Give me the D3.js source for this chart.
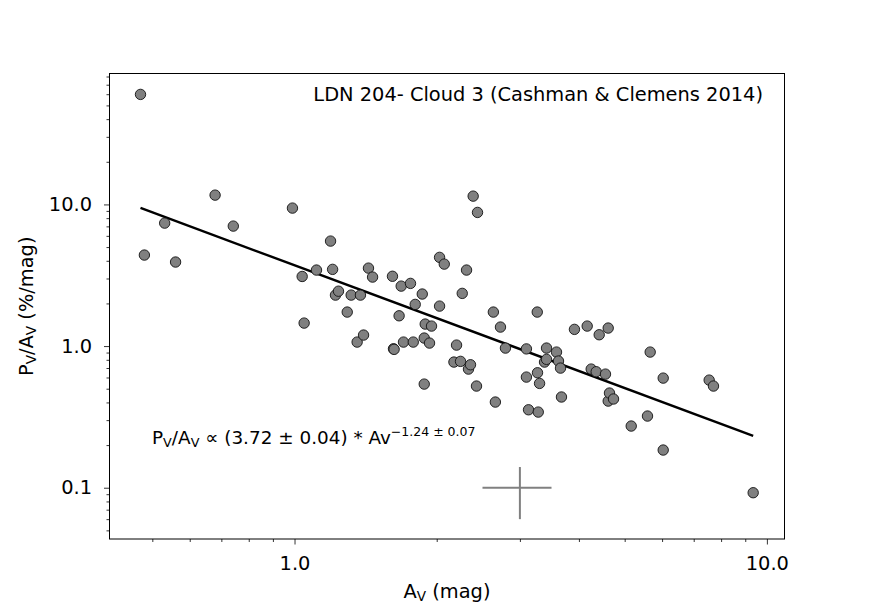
<!DOCTYPE html>
<html>
<head>
<meta charset="utf-8">
<script src="https://cdn.jsdelivr.net/npm/d3@7"></script>
<style>
  body { margin: 0; background: #fff; }
  svg text { font-family: "DejaVu Sans", sans-serif; fill: #000; }
</style>
</head>
<body>
<div id="chart"></div>
<script>
// Av (mag) and Pv/Av (%/mag)
const avValues = [
  0.472, 0.481, 0.531, 0.560, 0.679, 0.742, 0.990, 1.038, 1.048, 1.113,
  1.192, 1.204, 1.221, 1.239, 1.293, 1.318, 1.357, 1.379, 1.400, 1.434,
  1.463, 1.612, 1.620, 1.625, 1.665, 1.682, 1.701, 1.760, 1.784, 1.801,
  1.864, 1.882, 1.882, 1.891, 1.931, 1.950, 2.028, 2.028, 2.075, 2.175,
  2.203, 2.246, 2.265, 2.313, 2.335, 2.358, 2.389, 2.428, 2.440, 2.636,
  2.662, 2.729, 2.796, 3.097, 3.097, 3.129, 3.265, 3.269, 3.281, 3.302,
  3.383, 3.416, 3.416, 3.586, 3.621, 3.657, 3.674, 3.914, 4.165, 4.247,
  4.352, 4.416, 4.553, 4.614, 4.614, 4.643, 4.735, 5.162, 5.588, 5.662,
  6.033, 6.033, 7.548, 7.708, 9.354
];
const pvAvValues = [
  59.8, 4.39, 7.38, 3.92, 11.63, 7.03, 9.42, 3.10, 1.453, 3.44,
  5.51, 3.48, 2.29, 2.44, 1.738, 2.29, 1.067, 2.29, 1.196, 3.55,
  3.07, 3.11, 0.957, 0.948, 1.636, 2.65, 1.067, 2.77, 1.067, 1.969,
  2.33, 1.139, 0.539, 1.430, 1.050, 1.384, 4.23, 1.915, 3.79, 0.771,
  1.016, 0.780, 2.355, 3.44, 0.688, 0.738, 11.44, 0.522, 8.78, 1.738,
  0.4025, 1.362, 0.968, 0.955, 0.604, 0.355, 1.738, 0.648, 0.342, 0.545,
  0.771, 0.968, 0.806, 0.907, 0.784, 0.699, 0.437, 1.312, 1.384, 0.688,
  0.659, 1.202, 0.634, 1.340, 0.409, 0.466, 0.423, 0.2725, 0.3206, 0.907,
  0.594, 0.1845, 0.575, 0.522, 0.0922
];

// power-law fit  Pv/Av = A * Av^B
const fitA = 3.72;
const fitB = -1.24;

// typical error bar
const errX = 3.0, errXsig = 0.5;
const errY = 0.1, errYsig = 0.04;

const xTickValues = [1, 10];
const yTickValues = [0.1, 1, 10];
const xDomain = [0.4058, 10.897];
const yDomain = [0.04345, 84.0];

const width = 871, height = 606;
const mLeft = 109.5, mRight = 784.5, mTop = 73.5, mBottom = 539;
const fs = 19.4, fsSmall = 13.6;

const svg = d3.select("#chart").append("svg")
  .attr("width", width).attr("height", height);

const x = d3.scaleLog().domain(xDomain).range([mLeft, mRight]);
const y = d3.scaleLog().domain(yDomain).range([mBottom, mTop]);

// minor ticks
function minorTicks(domain) {
  const out = [];
  for (let e = -3; e <= 3; e++) {
    for (let m = 2; m <= 9; m++) {
      const v = m * Math.pow(10, e);
      if (v >= domain[0] && v <= domain[1]) out.push(v);
    }
  }
  return out;
}

const fmt = d3.format(".1f");

// x axis
const gx = svg.append("g").attr("transform", `translate(0,${mBottom})`);
gx.call(d3.axisBottom(x).tickValues(minorTicks(xDomain)).tickSize(3).tickFormat(""))
  .call(g => g.select(".domain").remove());
gx.append("g").call(d3.axisBottom(x).tickValues(xTickValues).tickSize(5.5).tickPadding(11.5).tickFormat(fmt))
  .call(g => g.select(".domain").remove())
  .call(g => g.selectAll("text").attr("font-size", fs).attr("font-family", "DejaVu Sans").attr("fill", "#000"));

// y axis
const gy = svg.append("g").attr("transform", `translate(${mLeft},0)`);
gy.call(d3.axisLeft(y).tickValues(minorTicks(yDomain)).tickSize(3).tickFormat(""))
  .call(g => g.select(".domain").remove());
gy.append("g").call(d3.axisLeft(y).tickValues(yTickValues).tickSize(5.5).tickPadding(12).tickFormat(fmt))
  .call(g => g.select(".domain").remove())
  .call(g => g.selectAll("text").attr("font-size", fs).attr("font-family", "DejaVu Sans").attr("fill", "#000"));

svg.selectAll(".tick line").attr("stroke", "#000").attr("stroke-width", 0.8);

// fit line over the data range
const xExt = d3.extent(avValues);
const fitLine = xExt.map(v => [v, fitA * Math.pow(v, fitB)]);
svg.append("path")
  .attr("d", d3.line().x(d => x(d[0])).y(d => y(d[1]))(fitLine))
  .attr("stroke", "#000").attr("stroke-width", 2.4).attr("fill", "none");

// points
const points = avValues.map((v, i) => ({ av: v, p: pvAvValues[i] }));
svg.append("g").selectAll("circle")
  .data(points)
  .enter()
  .append("circle")
  .attr("cx", d => x(d.av))
  .attr("cy", d => y(d.p))
  .attr("r", 5.2)
  .attr("fill", "#808080")
  .attr("stroke", "#111")
  .attr("stroke-width", 0.9);

// error cross
const eg = svg.append("g").attr("stroke", "#808080").attr("stroke-width", 2);
eg.append("line")
  .attr("x1", x(errX - errXsig)).attr("x2", x(errX + errXsig))
  .attr("y1", y(errY)).attr("y2", y(errY));
eg.append("line")
  .attr("x1", x(errX)).attr("x2", x(errX))
  .attr("y1", y(errY - errYsig)).attr("y2", y(errY + errYsig));

// frame
svg.append("rect")
  .attr("x", mLeft).attr("y", mTop)
  .attr("width", mRight - mLeft).attr("height", mBottom - mTop)
  .attr("fill", "none").attr("stroke", "#000").attr("stroke-width", 1);

// title inside the axes
svg.append("text")
  .attr("x", 763).attr("y", 101)
  .attr("text-anchor", "end")
  .attr("font-size", fs)
  .text("LDN 204- Cloud 3 (Cashman & Clemens 2014)");

// fit formula
const ft = svg.append("text").attr("x", 152).attr("y", 443.5).attr("font-size", 18.4);
ft.append("tspan").text("P");
ft.append("tspan").attr("font-size", 12.8).attr("dy", 3).text("V");
ft.append("tspan").attr("dy", -3).text("/A");
ft.append("tspan").attr("font-size", 12.8).attr("dy", 3).text("V");
ft.append("tspan").attr("dy", -3).text(" \u221D (3.72 \u00B1 0.04) * Av");
ft.append("tspan").attr("font-size", 12.5).attr("dy", -8).text("\u22121.24 \u00B1 0.07");

// x label
const xl = svg.append("text")
  .attr("x", (mLeft + mRight) / 2).attr("y", 598)
  .attr("text-anchor", "middle").attr("font-size", fs);
xl.append("tspan").text("A");
xl.append("tspan").attr("font-size", fsSmall).attr("dy", 3).text("V");
xl.append("tspan").attr("dy", -3).text(" (mag)");

// y label
const yl = svg.append("text")
  .attr("transform", `translate(33,${(mTop + mBottom) / 2}) rotate(-90)`)
  .attr("text-anchor", "middle").attr("font-size", fs);
yl.append("tspan").text("P");
yl.append("tspan").attr("font-size", fsSmall).attr("dy", 3).text("V");
yl.append("tspan").attr("dy", -3).text("/A");
yl.append("tspan").attr("font-size", fsSmall).attr("dy", 3).text("V");
yl.append("tspan").attr("dy", -3).text(" (%/mag)");
</script>
</body>
</html>
